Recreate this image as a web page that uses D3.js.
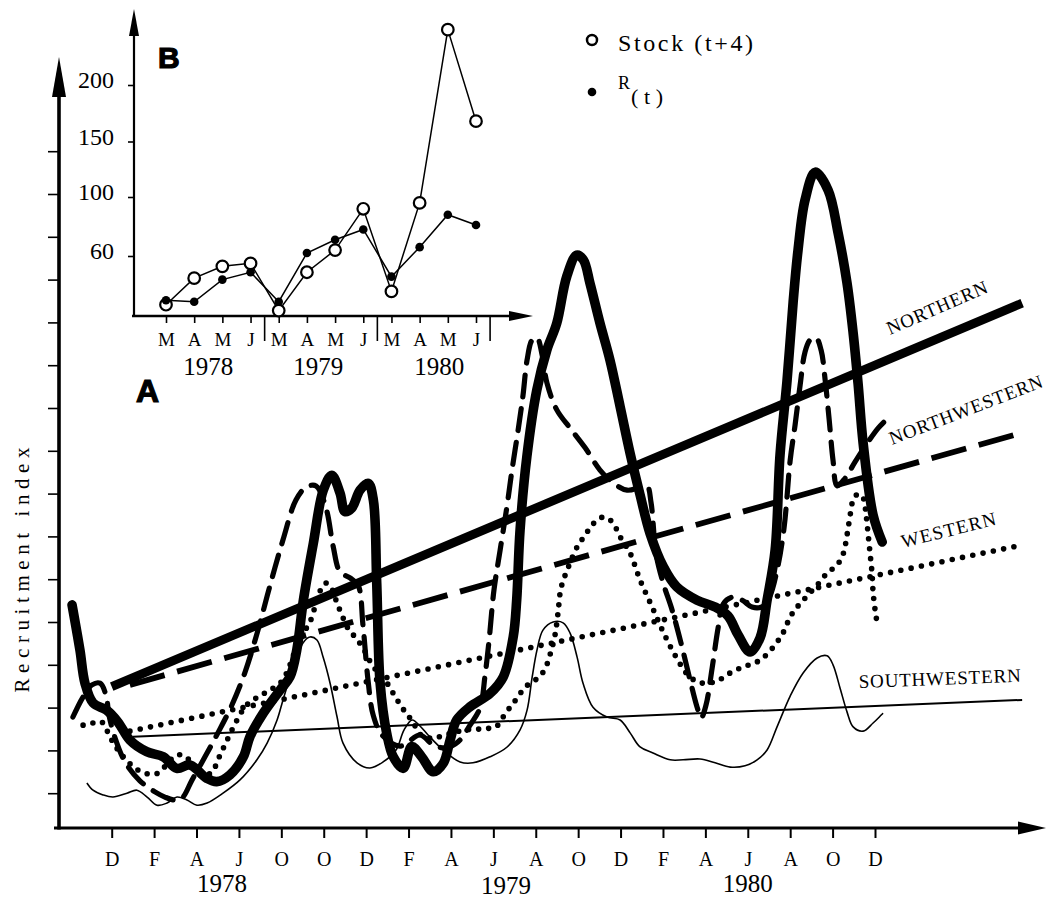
<!DOCTYPE html>
<html>
<head>
<meta charset="utf-8">
<script src="https://cdnjs.cloudflare.com/ajax/libs/d3/7.8.5/d3.min.js"></script>
<style>
  html, body { margin: 0; padding: 0; background: #fff; }
  svg { display: block; }
</style>
</head>
<body>
<svg id="chart" width="1048" height="901"></svg>
<script>
// ---------- Panel A: recruitment index by region (month 0 = Dec 1977) ----------
const monthTicks = ["D","F","A","J","O","O","D","F","A","J","A","O","D","F","A","J","A","O","D"];
const yearLabels = ["1978","1979","1980"];
const yearPos = [5.2, 18.6, 30];
const indexTicks = [1,2,3,4,5,6,7,8,9,10,11,12,13,14,15,16];

const northern = [[-1.87,5.40],[-1.50,4.35],[-1.26,3.57],[-0.88,3.11],[-0.24,2.94],[0.30,2.66],[0.86,2.24],[1.65,1.97],[2.43,1.85],[3.07,1.58],[3.69,1.66],[4.48,1.35],[4.95,1.27],[5.58,1.43],[6.21,1.85],[6.52,2.32],[7.15,2.87],[7.94,3.41],[8.41,3.72],[8.73,4.35],[9.04,5.51],[9.51,6.84],[9.98,8.08],[10.38,8.43],[10.77,8.01],[11.00,7.58],[11.32,7.66],[11.71,8.08],[12.10,8.24],[12.34,7.85],[12.50,5.90],[12.66,3.57],[12.97,2.40],[13.28,1.85],[13.75,1.58],[14.15,2.09],[14.62,1.85],[15.17,1.50],[15.64,1.70],[15.96,2.24],[16.27,2.71],[16.90,3.02],[17.84,3.33],[18.47,3.72],[18.94,4.66],[19.10,5.51],[19.26,7.15],[19.58,8.86],[20.05,10.42],[20.52,11.35],[20.99,11.98],[21.46,13.07],[21.93,13.57],[22.25,13.46],[22.56,12.91],[23.03,11.98],[23.50,11.12],[23.98,10.03],[24.45,8.94],[24.92,7.97],[25.39,7.07],[26.02,6.29],[26.65,5.82],[27.61,5.51],[28.46,5.35],[29.07,5.14],[29.54,4.70],[30.11,4.30],[30.58,4.63],[30.91,5.51],[31.29,6.68],[31.52,8.90],[31.85,10.63],[32.14,12.48],[32.37,13.69],[32.70,14.86],[33.18,15.51],[33.79,15.09],[34.26,14.09],[34.68,12.92],[34.97,11.75],[35.20,10.58],[35.44,9.18],[35.91,7.50],[36.34,6.87]];

const northwestern = [[-1.83,2.78],[-1.35,3.25],[-0.93,3.53],[-0.55,3.57],[-0.27,3.29],[-0.13,2.83],[0.16,2.29],[0.63,1.73],[1.33,1.29],[2.04,1.03],[2.51,0.91],[2.99,0.84],[3.32,0.89],[3.79,1.31],[4.40,1.85],[5.01,2.41],[5.67,3.06],[6.29,3.83],[6.90,4.81],[7.47,5.86],[8.08,6.92],[8.69,7.85],[9.17,8.15],[9.64,8.18],[10.11,7.66],[10.44,6.78],[10.77,6.17],[11.24,6.03],[11.62,5.86],[11.85,4.93],[12.09,3.64],[12.33,2.83],[12.75,2.36],[13.60,2.10],[14.54,2.36],[15.16,2.13],[15.77,2.06],[16.34,2.20],[16.90,2.59],[17.37,2.99],[17.61,3.76],[17.80,4.58],[18.03,5.75],[18.32,6.68],[18.65,7.73],[18.88,8.55],[19.17,9.49],[19.40,10.30],[19.59,11.12],[19.83,11.59],[20.06,11.64],[20.30,11.24],[20.53,10.58],[21.00,9.95],[21.62,9.53],[22.33,9.07],[23.03,8.55],[23.65,8.25],[24.31,8.08],[24.92,8.15],[25.25,8.18],[25.44,7.78],[25.68,6.57],[26.01,5.91],[26.43,5.28],[26.85,4.51],[27.28,3.64],[27.61,3.01],[27.80,2.76],[28.03,3.06],[28.32,3.93],[28.60,4.86],[28.84,5.42],[29.26,5.58],[29.73,5.51],[30.20,5.35],[30.63,5.35],[31.00,5.56],[31.38,6.21],[31.71,7.20],[32.00,8.78],[32.23,9.60],[32.47,10.54],[32.70,11.31],[32.94,11.59],[33.22,11.64],[33.46,11.35],[33.65,10.65],[33.84,9.72],[34.02,8.78],[34.21,8.18],[34.59,8.36],[35.06,8.74],[35.58,9.14],[36.15,9.53],[36.48,9.70]];

const western = [[-1.35,2.59],[-0.88,2.64],[-0.46,2.66],[-0.08,2.31],[0.30,2.01],[0.77,1.73],[1.24,1.54],[1.71,1.45],[2.18,1.47],[2.61,1.68],[2.99,1.87],[3.36,1.89],[3.65,1.78],[3.93,1.54],[4.31,1.40],[4.73,1.50],[5.11,1.89],[5.49,2.29],[5.86,2.66],[6.33,3.04],[6.90,3.25],[7.47,3.41],[8.03,3.62],[8.41,4.00],[8.69,4.39],[8.98,4.70],[9.35,5.00],[9.64,5.44],[9.92,5.82],[10.11,5.91],[10.34,5.82],[10.58,5.51],[10.86,5.16],[11.19,4.81],[11.52,4.63],[11.90,4.35],[12.28,4.00],[12.66,3.76],[12.99,3.57],[13.27,3.34],[13.55,3.11],[13.84,2.90],[14.17,2.69],[14.59,2.36],[15.01,2.29],[15.39,2.31],[16.05,2.41],[16.71,2.48],[17.37,2.50],[17.84,2.52],[18.17,2.57],[18.46,2.78],[18.79,3.01],[19.12,3.22],[19.50,3.48],[19.97,3.64],[20.39,3.86],[20.67,4.23],[20.91,4.70],[21.05,5.21],[21.19,5.79],[21.52,6.26],[21.95,6.75],[22.33,7.03],[22.70,7.29],[23.18,7.45],[23.60,7.34],[23.98,6.99],[24.45,6.61],[24.92,5.98],[25.49,5.35],[26.01,4.77],[26.62,4.18],[27.28,3.71],[27.89,3.57],[28.55,3.62],[29.17,3.81],[29.78,3.95],[30.44,4.07],[30.91,4.25],[31.38,4.53],[31.71,4.79],[32.00,5.12],[32.33,5.35],[32.80,5.61],[33.27,5.86],[33.74,6.14],[34.21,6.33],[34.50,6.59],[34.68,7.03],[34.83,7.50],[34.97,7.85],[35.20,7.99],[35.44,7.90],[35.58,7.50],[35.68,7.03],[35.77,6.59],[35.86,6.14],[35.91,5.70],[36.01,5.26],[36.10,4.98]];

const southwestern = [[-1.17,1.24],[-0.88,1.07],[-0.41,0.96],[0.06,0.91],[0.72,1.00],[1.19,1.07],[1.67,0.91],[2.14,0.72],[2.61,0.77],[3.08,0.91],[3.55,0.84],[4.02,0.72],[4.50,0.77],[5.25,1.00],[6.05,1.31],[6.85,1.78],[7.33,2.17],[7.80,2.71],[8.08,3.18],[8.41,3.71],[8.74,4.18],[9.02,4.51],[9.35,4.65],[9.68,4.58],[9.97,4.18],[10.30,3.57],[10.63,2.78],[10.91,2.17],[11.57,1.71],[12.18,1.59],[12.80,1.73],[13.41,2.01],[13.79,2.48],[14.17,2.71],[14.54,2.57],[14.92,2.36],[15.63,2.01],[16.43,1.73],[17.04,1.71],[17.84,1.85],[18.65,2.08],[19.26,2.48],[19.59,2.94],[19.83,3.71],[20.06,4.35],[20.34,4.81],[20.82,5.00],[21.29,4.98],[21.62,4.74],[21.95,4.18],[22.23,3.57],[22.70,3.01],[23.36,2.78],[23.98,2.71],[24.45,2.41],[24.92,2.08],[25.53,1.94],[26.34,1.78],[26.95,1.78],[27.75,1.80],[28.46,1.71],[29.17,1.61],[29.87,1.64],[30.44,1.78],[30.91,2.01],[31.38,2.55],[32.00,3.27],[32.61,3.81],[33.27,4.16],[33.74,4.21],[34.02,4.00],[34.35,3.46],[34.68,2.90],[34.97,2.55],[35.44,2.45],[35.91,2.64],[36.38,2.87]];

// linear trends per region: [month, index] end points
const northernTrend = [[0, 3.49], [42.94, 12.45]];
const northwesternTrend = [[0.86, 3.53], [42.92, 9.42]];
const westernTrend = [[0.86, 2.45], [42.94, 6.80]];
const southwesternTrend = [[1.00, 2.32], [42.94, 3.18]];

// ---------- Panel B: stock vs recruitment ----------
const insetMonths = ["M","A","M","J","M","A","M","J","M","A","M","J"];
const insetYears = ["1978","1979","1980"];
const insetYearPos = [1.5, 5.4, 9.7];
const insetTicks = [60, 100, 150, 200];
const stockT4 = [27, 45, 53, 55, 23, 49, 64, 92, 36, 96, 249, 168];
const recruitT = [30, 29, 44, 49, 29, 62, 71, 78, 46, 66, 88, 81];

// ---------- setup ----------
const svg = d3.select("#chart");
svg.append("rect").attr("width", 1048).attr("height", 901).attr("fill", "#fff");
const INK = "#000";
const SERIF = "'Liberation Serif', 'DejaVu Serif', serif";
const SANS = "'Liberation Sans', Arial, sans-serif";

const x = d3.scaleLinear().domain([0, 36]).range([111.7, 875]);
const y = d3.scaleLinear().domain([0, 16]).range([836, 151.2]);
const axisLeftX = 59, axisBottomY = 828;

// ---------- main axes ----------
const axes = svg.append("g");
axes.append("g")
  .attr("transform", `translate(${axisLeftX},0)`)
  .call(d3.axisLeft(y).tickValues(indexTicks).tickSize(11).tickFormat(""))
  .call(g => g.select(".domain").remove())
  .call(g => g.selectAll(".tick line").attr("stroke", INK).attr("stroke-width", 1.6));
axes.append("line")
  .attr("x1", axisLeftX).attr("x2", axisLeftX)
  .attr("y1", axisBottomY + 1.5).attr("y2", 90)
  .attr("stroke", INK).attr("stroke-width", 3.6);
axes.append("path")
  .attr("d", `M${axisLeftX},57 L${axisLeftX - 7},97 L${axisLeftX + 7},97 Z`)
  .attr("fill", INK);

const xAxisG = axes.append("g")
  .attr("transform", `translate(0,${axisBottomY})`)
  .call(d3.axisBottom(x).tickValues(d3.range(0, 37, 2)).tickSize(10).tickPadding(14)
    .tickFormat((d, i) => monthTicks[i]));
xAxisG.select(".domain").remove();
xAxisG.selectAll(".tick line").attr("stroke", INK).attr("stroke-width", 2);
xAxisG.selectAll(".tick text")
  .attr("font-family", SERIF).attr("font-size", 20).attr("fill", INK);
axes.append("line")
  .attr("x1", 54).attr("x2", 1025)
  .attr("y1", axisBottomY).attr("y2", axisBottomY)
  .attr("stroke", INK).attr("stroke-width", 3);
axes.append("path")
  .attr("d", `M1046,${axisBottomY} L1018,${axisBottomY - 6.5} L1018,${axisBottomY + 6.5} Z`)
  .attr("fill", INK);

axes.selectAll("text.year").data(yearLabels).join("text")
  .attr("class", "year")
  .attr("x", (d, i) => x(yearPos[i])).attr("y", (d, i) => i === 1 ? 894 : 892)
  .attr("text-anchor", "middle")
  .attr("font-family", SERIF).attr("font-size", 25).attr("fill", INK)
  .text(d => d);

axes.append("text")
  .attr("transform", "translate(29,570) rotate(-90)")
  .attr("text-anchor", "middle")
  .attr("font-family", SERIF).attr("font-size", 21).attr("fill", INK)
  .attr("textLength", 245).attr("lengthAdjust", "spacing")
  .text("Recruitment index");

// ---------- regional series and trends ----------
const smooth = d3.line().x(d => x(d[0])).y(d => y(d[1])).curve(d3.curveCatmullRom.alpha(0.5));
const straight = d3.line().x(d => x(d[0])).y(d => y(d[1]));
const plot = svg.append("g").attr("fill", "none").attr("stroke", INK);

// southwestern: thin solid
plot.append("path").attr("d", straight(southwesternTrend)).attr("stroke-width", 2);
plot.append("path").attr("d", smooth(southwestern)).attr("stroke-width", 1.6)
  .attr("stroke-linejoin", "round");

// western: dotted
plot.append("path").attr("d", straight(westernTrend))
  .attr("stroke-width", 5.6).attr("stroke-linecap", "round").attr("stroke-dasharray", "0,10.5");
plot.append("path").attr("d", smooth(western))
  .attr("stroke-width", 5.6).attr("stroke-linecap", "round").attr("stroke-dasharray", "0,10");

// northwestern: dashed
plot.append("path").attr("d", straight(northwesternTrend))
  .attr("stroke-width", 5.8).attr("stroke-dasharray", "36,13");
plot.append("path").attr("d", smooth(northwestern))
  .attr("stroke-width", 5.2).attr("stroke-linecap", "round").attr("stroke-dasharray", "22,12");

// northern: heavy solid
plot.append("path").attr("d", straight(northernTrend)).attr("stroke-width", 8.8);
plot.append("path").attr("d", smooth(northern))
  .attr("stroke-width", 9.6).attr("stroke-linecap", "round").attr("stroke-linejoin", "round");

// region labels
const regionLabels = [
  { name: "NORTHERN", x: 890, y: 335, rot: -23.5, len: 108 },
  { name: "NORTHWESTERN", x: 892, y: 445, rot: -21, len: 163 },
  { name: "WESTERN", x: 903, y: 548, rot: -14, len: 97 },
  { name: "SOUTHWESTERN", x: 859, y: 688, rot: -2.2, len: 162 }
];
svg.append("g").selectAll("text").data(regionLabels).join("text")
  .attr("transform", d => `translate(${d.x},${d.y}) rotate(${d.rot})`)
  .attr("font-family", SERIF).attr("font-size", 19).attr("fill", INK)
  .attr("textLength", d => d.len).attr("lengthAdjust", "spacing")
  .text(d => d.name);

svg.append("text").attr("x", 136).attr("y", 402)
  .attr("font-family", SANS).attr("font-weight", "bold").attr("font-size", 32)
  .attr("fill", INK).attr("stroke", INK).attr("stroke-width", 1.2)
  .text("A");

// ---------- inset panel B ----------
const xi = d3.scaleLinear().domain([0, 11]).range([166, 476]);
const yi = d3.scaleLinear().domain([20, 60, 100, 150, 200]).range([315, 256, 197, 141.5, 85]);
const insetLeftX = 134, insetBottomY = 316;
const inset = svg.append("g");

inset.append("line").attr("x1", insetLeftX).attr("x2", insetLeftX)
  .attr("y1", insetBottomY + 1).attr("y2", 30).attr("stroke", INK).attr("stroke-width", 2.2);
inset.append("path").attr("d", `M${insetLeftX},9 L${insetLeftX - 5},36 L${insetLeftX + 5},36 Z`).attr("fill", INK);
const yiAxis = inset.append("g").attr("transform", `translate(${insetLeftX},0)`)
  .call(d3.axisLeft(yi).tickValues(insetTicks).tickSize(6).tickPadding(14).tickFormat(d3.format("d")));
yiAxis.select(".domain").remove();
yiAxis.selectAll(".tick line").attr("stroke", INK).attr("stroke-width", 1.6);
yiAxis.selectAll(".tick text").attr("font-family", SERIF).attr("font-size", 24)
  .attr("fill", INK).attr("dy", "0.12em");

inset.append("line").attr("x1", 132).attr("x2", 515)
  .attr("y1", insetBottomY).attr("y2", insetBottomY).attr("stroke", INK).attr("stroke-width", 2.4);
inset.append("path").attr("d", `M533,${insetBottomY} L509,${insetBottomY - 5} L509,${insetBottomY + 5} Z`).attr("fill", INK);
const xiAxis = inset.append("g").attr("transform", `translate(0,${insetBottomY})`)
  .call(d3.axisBottom(xi).tickValues(d3.range(12)).tickSize(7).tickPadding(10)
    .tickFormat((d, i) => insetMonths[i]));
xiAxis.select(".domain").remove();
xiAxis.selectAll(".tick line").attr("stroke", INK).attr("stroke-width", 1.6);
xiAxis.selectAll(".tick text").attr("font-family", SERIF).attr("font-size", 19).attr("fill", INK);
inset.selectAll("line.sep").data([3.5, 7.5, 11.5]).join("line")
  .attr("class", "sep")
  .attr("x1", d => xi(d)).attr("x2", d => xi(d))
  .attr("y1", insetBottomY).attr("y2", insetBottomY + 25)
  .attr("stroke", INK).attr("stroke-width", 1.6);
inset.selectAll("text.iyear").data(insetYears).join("text")
  .attr("class", "iyear")
  .attr("x", (d, i) => xi(insetYearPos[i])).attr("y", 375)
  .attr("text-anchor", "middle")
  .attr("font-family", SERIF).attr("font-size", 25).attr("fill", INK)
  .text(d => d);

const insetLine = d3.line().x((d, i) => xi(i)).y(d => yi(d));
inset.append("path").attr("d", insetLine(recruitT))
  .attr("fill", "none").attr("stroke", INK).attr("stroke-width", 1.5);
inset.append("path").attr("d", insetLine(stockT4))
  .attr("fill", "none").attr("stroke", INK).attr("stroke-width", 1.5);
inset.selectAll("circle.stock").data(stockT4).join("circle")
  .attr("class", "stock")
  .attr("cx", (d, i) => xi(i)).attr("cy", d => yi(d)).attr("r", 5.8)
  .attr("fill", "#fff").attr("stroke", INK).attr("stroke-width", 2.2);
inset.selectAll("circle.rec").data(recruitT).join("circle")
  .attr("class", "rec")
  .attr("cx", (d, i) => xi(i)).attr("cy", d => yi(d)).attr("r", 4.3)
  .attr("fill", INK);

inset.append("text").attr("x", 158).attr("y", 68)
  .attr("font-family", SANS).attr("font-weight", "bold").attr("font-size", 30)
  .attr("fill", INK).attr("stroke", INK).attr("stroke-width", 1.2)
  .text("B");

// legend
const legend = svg.append("g");
legend.append("circle").attr("cx", 592).attr("cy", 40).attr("r", 5)
  .attr("fill", "#fff").attr("stroke", INK).attr("stroke-width", 2.5);
legend.append("text").attr("x", 618).attr("y", 51)
  .attr("font-family", SERIF).attr("font-size", 24).attr("fill", INK)
  .attr("textLength", 135).attr("lengthAdjust", "spacing")
  .text("Stock (t+4)");
legend.append("circle").attr("cx", 592).attr("cy", 92).attr("r", 4.3).attr("fill", INK);
legend.append("text").attr("x", 618).attr("y", 89)
  .attr("font-family", SERIF).attr("font-size", 18).attr("fill", INK).text("R");
legend.append("text").attr("x", 631).attr("y", 104)
  .attr("font-family", SERIF).attr("font-size", 22).attr("fill", INK)
  .attr("textLength", 32).attr("lengthAdjust", "spacing").text("(t)");
</script>
</body>
</html>
